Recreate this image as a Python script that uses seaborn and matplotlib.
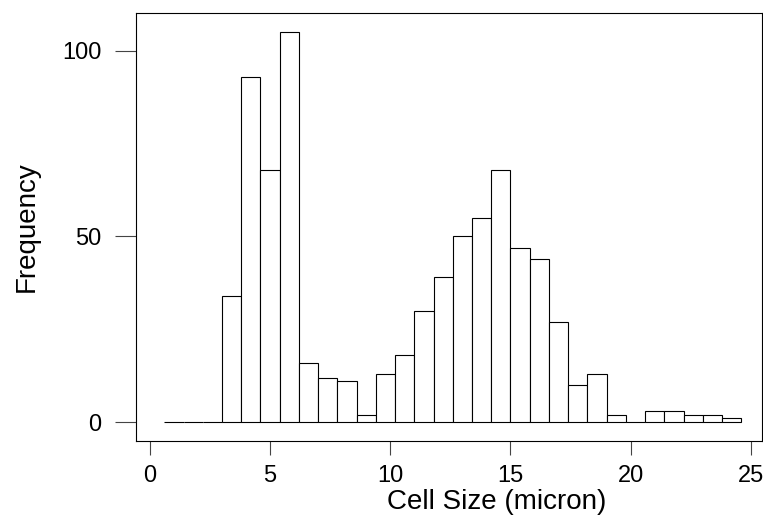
import matplotlib
matplotlib.use('Agg')
import matplotlib.pyplot as plt
import seaborn as sns

# bin centers (micron) and counts, bin width 0.8
bin_centers = [1.0, 1.8, 2.6, 3.4, 4.2, 5.0, 5.8, 6.6, 7.4, 8.2,
               9.0, 9.8, 10.6, 11.4, 12.2, 13.0, 13.8, 14.6, 15.4, 16.2,
               17.0, 17.8, 18.6, 19.4, 20.2, 21.0, 21.8, 22.6, 23.4, 24.2]
counts = [0, 0, 0, 34, 93, 68, 105, 16, 12, 11,
          2, 13, 18, 30, 39, 50, 55, 68, 47, 44,
          27, 10, 13, 2, 0, 3, 3, 2, 2, 1]
x_ticks = [0, 5, 10, 15, 20, 25]
y_ticks = [0, 50, 100]

sns.set_style('white')
plt.rcParams['font.family'] = ['Liberation Sans', 'DejaVu Sans']

fig = plt.figure(figsize=(7.63, 5.2), dpi=100)
ax = fig.add_axes([0.1782, 0.1519, 0.8204, 0.823])

sns.histplot(x=bin_centers, weights=counts, binwidth=0.8, binrange=(0.6, 24.6),
             color='white', edgecolor='black', linewidth=0.8, alpha=1, ax=ax)

ax.set_xlim(-0.58, 25.46)
ax.set_ylim(-5.1, 110.2)
ax.set_xticks(x_ticks)
ax.set_yticks(y_ticks)
ax.tick_params(axis='x', direction='out', length=10, width=0.8, pad=7,
               labelsize=17, color='#444444', labelcolor='black', bottom=True)
ax.tick_params(axis='y', direction='out', length=15, width=0.8, pad=10,
               labelsize=17, color='#444444', labelcolor='black', left=True)
for s in ax.spines.values():
    s.set_color('black')
    s.set_linewidth(0.8)

ax.set_xlabel('Cell Size (micron)', fontsize=20, color='black')
ax.set_ylabel('Frequency', fontsize=20, labelpad=16, color='black')
# the x title sits right of the frame centre in the original
ax.xaxis.set_label_coords(0.577, -0.113)

plt.savefig('out.png', dpi=100)
